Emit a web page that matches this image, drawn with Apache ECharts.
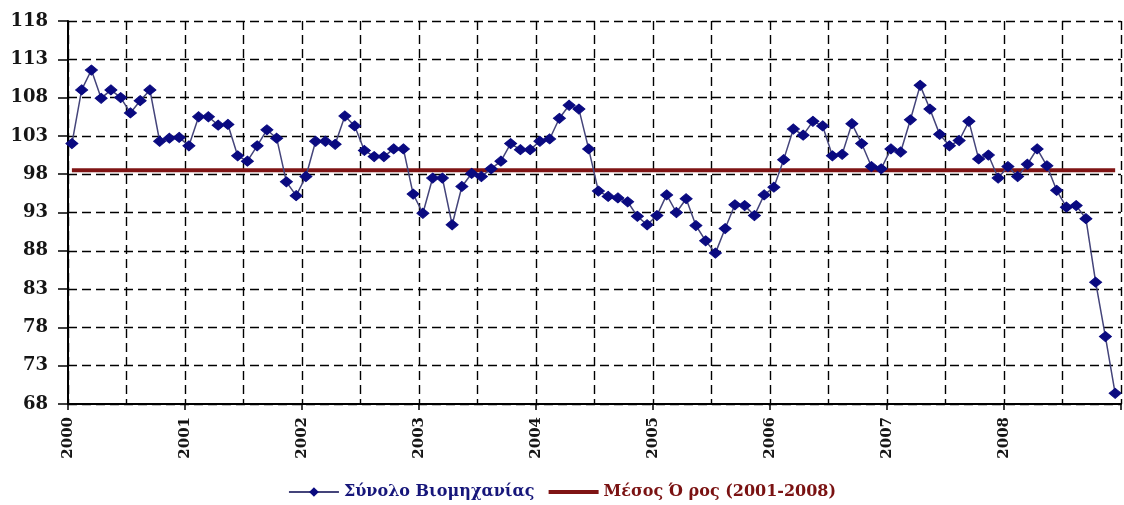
<!DOCTYPE html>
<html>
<head>
<meta charset="utf-8">
<script src="https://cdn.jsdelivr.net/npm/echarts@6/dist/echarts.min.js"></script>
<style>html,body{margin:0;padding:0;background:#fff}#c{width:1124px;height:505px}</style>
</head>
<body>
<div id="c"></div>
<script>
var years = [2000, 2001, 2002, 2003, 2004, 2005, 2006, 2007, 2008];
var v2000 = [102.0, 109.0, 111.6, 107.9, 109.0, 108.0, 106.0, 107.6, 109.0, 102.3, 102.7, 102.8];
var v2001 = [101.7, 105.5, 105.5, 104.4, 104.5, 100.4, 99.7, 101.7, 103.8, 102.7, 97.0, 95.2];
var v2002 = [97.7, 102.3, 102.3, 101.9, 105.6, 104.3, 101.1, 100.3, 100.3, 101.3, 101.3, 95.4];
var v2003 = [92.9, 97.5, 97.5, 91.4, 96.4, 98.1, 97.7, 98.7, 99.7, 102.0, 101.2, 101.2];
var v2004 = [102.3, 102.6, 105.3, 107.0, 106.5, 101.3, 95.8, 95.1, 94.9, 94.4, 92.5, 91.4];
var v2005 = [92.6, 95.3, 93.0, 94.8, 91.3, 89.3, 87.7, 90.9, 94.0, 93.9, 92.6, 95.3];
var v2006 = [96.3, 99.9, 103.9, 103.1, 104.9, 104.3, 100.4, 100.6, 104.6, 102.0, 99.0, 98.7];
var v2007 = [101.3, 100.9, 105.1, 109.6, 106.5, 103.2, 101.7, 102.4, 104.9, 100.0, 100.5, 97.5];
var v2008 = [99.0, 97.7, 99.3, 101.3, 99.1, 95.9, 93.7, 93.9, 92.2, 83.9, 76.8, 69.4];
var meanValue = 98.5;
var yTicks = [68, 73, 78, 83, 88, 93, 98, 103, 108, 113, 118];
var seriesName = 'Σύνολο Βιομηχανίας';
var meanName = 'Μέσος Ό ρος (2001-2008)';

var all = [].concat(v2000, v2001, v2002, v2003, v2004, v2005, v2006, v2007, v2008);
var pts = all.map(function (v, i) { return [i + 0.4, v]; });
var meanPts = [[0.4, meanValue], [all.length - 1 + 0.4, meanValue]];

var font = '"DejaVu Serif", "Liberation Serif", serif';
var grid = { type: [9, 5], color: '#000', width: 1.4 };

var chart = echarts.init(document.getElementById('c'));
chart.setOption({
  animation: false,
  backgroundColor: '#fff',
  grid: { left: 68, right: 3, top: 21, bottom: 101, containLabel: false },
  xAxis: {
    type: 'value', min: 0, max: years.length * 12, interval: 12,
    axisLine: { show: true, onZero: false, lineStyle: { color: '#000', width: 2 } },
    axisTick: { show: true, length: 6, lineStyle: { color: '#000', width: 1.5 } },
    minorTick: { show: false, splitNumber: 2 },
    splitLine: { show: true, lineStyle: grid },
    minorSplitLine: { show: true, lineStyle: grid },
    axisLabel: {
      rotate: 90, margin: 13, fontFamily: font, fontWeight: 'bold', fontSize: 15, color: '#151515',
      formatter: function (v) { var k = Math.round(v / 12); return (k < years.length) ? String(years[k]) : ''; }
    }
  },
  yAxis: {
    type: 'value', min: yTicks[0], max: yTicks[yTicks.length - 1], interval: 5,
    axisLine: { show: true, lineStyle: { color: '#000', width: 2 } },
    axisTick: { show: true, length: 10, lineStyle: { color: '#000', width: 1.5 } },
    splitLine: { show: true, lineStyle: grid },
    axisLabel: { margin: 20, fontFamily: font, fontWeight: 'bold', fontSize: 18, color: '#151515' }
  },
  legend: {
    bottom: 0, left: 'center', itemWidth: 50, itemHeight: 12, itemGap: 12,
    textStyle: { fontFamily: font, fontWeight: 'bold', fontSize: 16 },
    data: [
      { name: seriesName, textStyle: { color: '#16167a' } },
      { name: meanName, textStyle: { color: '#7a1212' },
        itemStyle: { color: 'rgba(0,0,0,0)', borderWidth: 0, opacity: 0 },
        lineStyle: { color: '#7f1414', width: 4 } }
    ]
  },
  series: [
    {
      name: meanName, type: 'line', data: meanPts, symbol: 'none', z: 2,
      lineStyle: { color: '#7f1414', width: 4 }, itemStyle: { color: '#7f1414' }
    },
    {
      name: seriesName, type: 'line', data: pts, symbol: 'diamond', symbolSize: [12, 10], z: 3,
      lineStyle: { color: '#44447a', width: 1.5 },
      itemStyle: { color: '#0a0a80', borderColor: '#0a0a80' }
    }
  ]
});
</script>
</body>
</html>
